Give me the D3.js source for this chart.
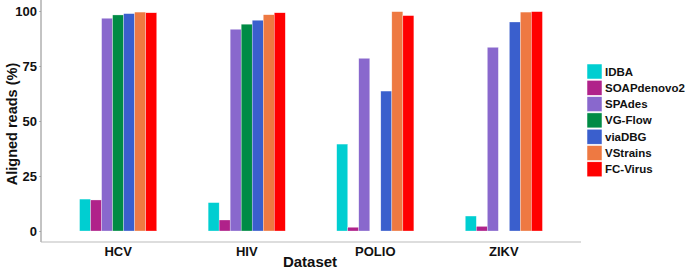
<!DOCTYPE html>
<html>
<head>
<meta charset="utf-8">
<script src="https://cdn.jsdelivr.net/npm/d3@7"></script>
<style>
  body { margin: 0; background: #fff; }
  svg { display: block; font-family: "Liberation Sans", Arial, sans-serif; }
</style>
</head>
<body>
<svg id="chart" width="685" height="270"></svg>
<script>
// data
const datasets = ["HCV", "HIV", "POLIO", "ZIKV"];
const tools = ["IDBA", "SOAPdenovo2", "SPAdes", "VG-Flow", "viaDBG", "VStrains", "FC-Virus"];
const colors = ["#00CED1", "#B0228A", "#8968CD", "#008B45", "#3A5FCD", "#EE7942", "#FF0000"];
const yTicks = [0, 25, 50, 75, 100];

// one array per tool, values in dataset order (null = no bar)
const idba = [14.5, 12.9, 39.5, 6.8];
const soap = [14.1, 5.0, 1.7, 2.1];
const spades = [96.7, 91.7, 78.5, 83.5];
const vgflow = [98.2, 94.0, null, null];
const viadbg = [98.8, 95.8, 63.6, 95.0];
const vstrains = [99.5, 98.3, 99.7, 99.5];
const fcvirus = [99.2, 99.2, 97.9, 99.7];
const series = [idba, soap, spades, vgflow, viadbg, vstrains, fcvirus];

const svg = d3.select("#chart");
const left = 41, right = 581, axisY = 242;

const x = d3.scaleBand().domain(datasets).range([left, right])
    .paddingInner(0).paddingOuter(0.1);
const dodge = d3.scaleBand().domain(tools)
    .range([-0.3 * x.step(), 0.3 * x.step()]);
const y = d3.scaleLinear().domain([0, 100]).range([231, 11]);

const rows = [];
datasets.forEach((d, i) => {
    tools.forEach((t, j) => {
        if (series[j][i] != null) rows.push({ ds: d, tool: t, v: series[j][i], c: colors[j] });
    });
});

// bars
svg.append("g").selectAll("rect")
    .data(rows)
    .enter()
    .append("rect")
    .attr("x", d => x(d.ds) + x.bandwidth() / 2 + dodge(d.tool))
    .attr("width", dodge.bandwidth())
    .attr("y", d => y(d.v))
    .attr("height", d => y(0) - y(d.v))
    .attr("fill", d => d.c)
    .attr("stroke", "#fff")
    .attr("stroke-opacity", 0.6)
    .attr("stroke-width", 0.5);

// y axis
const yAxis = svg.append("g")
    .attr("transform", `translate(${left},0)`)
    .call(d3.axisLeft(y).tickValues(yTicks).tickSize(2).tickPadding(2));
yAxis.select(".domain").remove();
yAxis.selectAll(".tick line").attr("stroke", "#bbb");
yAxis.selectAll(".tick text")
    .attr("font-size", 13).attr("font-weight", "bold").attr("fill", "#111")
    .attr("font-family", "Liberation Sans, Arial, sans-serif");
svg.append("line")
    .attr("x1", left).attr("x2", left).attr("y1", 0).attr("y2", axisY)
    .attr("stroke", "#888").attr("stroke-width", 1);

// x axis
const xAxis = svg.append("g")
    .attr("transform", `translate(0,${axisY})`)
    .call(d3.axisBottom(x).tickSize(0).tickPadding(5));
xAxis.select(".domain").remove();
xAxis.selectAll(".tick text")
    .attr("font-size", 13).attr("font-weight", "bold").attr("fill", "#111")
    .attr("font-family", "Liberation Sans, Arial, sans-serif");
svg.append("line")
    .attr("x1", left).attr("x2", right).attr("y1", axisY).attr("y2", axisY)
    .attr("stroke", "#bbb").attr("stroke-width", 1);

// titles
svg.append("text")
    .attr("x", 310).attr("y", 267)
    .attr("text-anchor", "middle")
    .attr("font-size", 15).attr("font-weight", "bold").attr("fill", "#111")
    .text("Dataset");
svg.append("text")
    .attr("transform", "rotate(-90) translate(-124,17)")
    .attr("text-anchor", "middle")
    .attr("font-size", 14.5).attr("font-weight", "bold").attr("fill", "#111")
    .text("Aligned reads (%)");

// legend
const legend = svg.append("g").attr("transform", "translate(587,64)");
const item = legend.selectAll("g")
    .data(tools)
    .enter()
    .append("g")
    .attr("transform", (d, i) => `translate(0,${i * 16.3})`);
item.append("rect")
    .attr("width", 15).attr("height", 15)
    .attr("fill", (d, i) => colors[i])
    .attr("stroke", "#fff").attr("stroke-width", 0.5);
item.append("text")
    .attr("x", 18).attr("y", 7.5).attr("dy", "0.35em")
    .attr("font-size", 11.5).attr("font-weight", "bold").attr("fill", "#111")
    .text(d => d);
</script>
</body>
</html>
